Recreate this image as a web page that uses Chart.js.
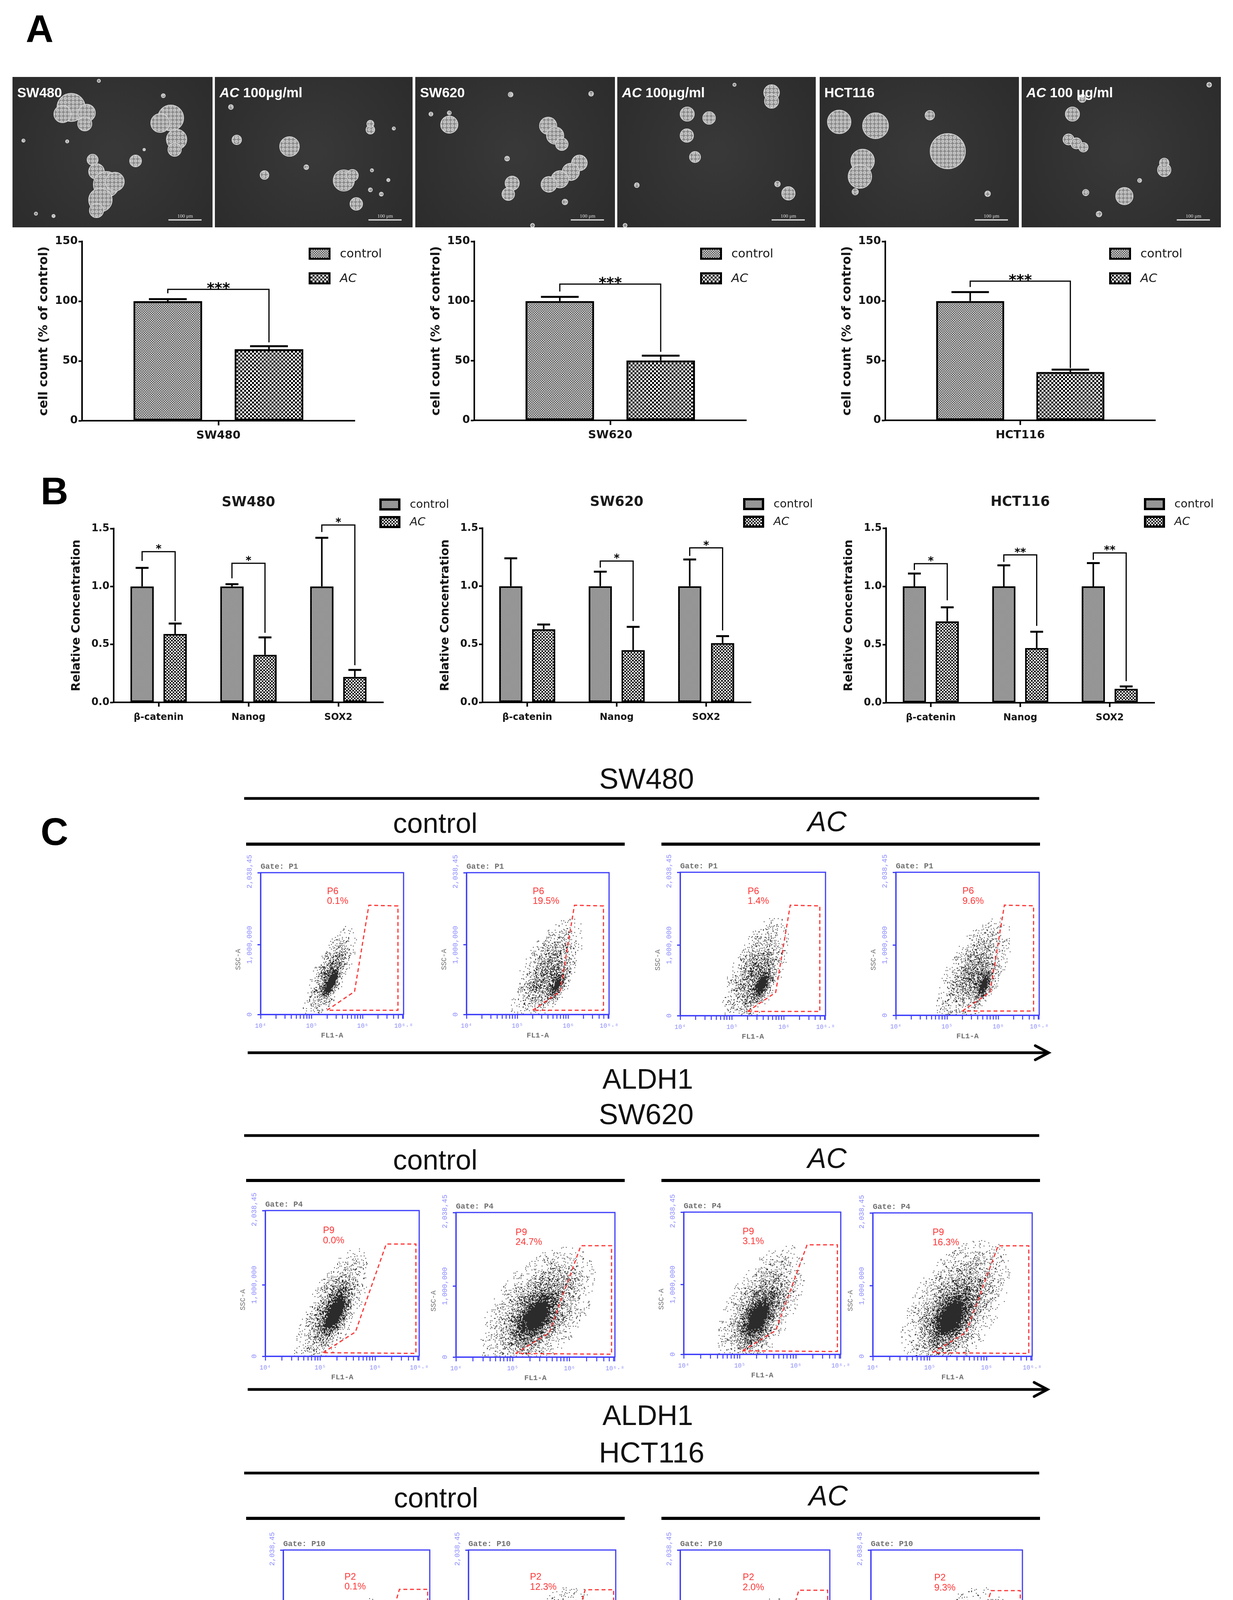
<!DOCTYPE html>
<html><head><meta charset="utf-8"><title>Figure</title>
<script src="https://cdn.jsdelivr.net/npm/chart.js@4.4.1/dist/chart.umd.min.js"></script>
<style>
html,body{margin:0;padding:0;background:#fff;}
#page{position:relative;width:3156px;height:4556px;background:#fff;overflow:hidden;}
#page canvas{position:absolute;}
#deco{position:absolute;left:0;top:0;}
</style></head>
<body><div id="page"><svg id="deco" width="3156" height="4556" xmlns="http://www.w3.org/2000/svg"></svg></div>
<script>
// ======================= DATA =======================
// Panel A – photos: colony estimates [x, y, radius] in photo pixels
const photoLabels = ['SW480', 'AC 100μg/ml', 'SW620', 'AC 100μg/ml', 'HCT116', 'AC 100 μg/ml'];
const coloniesSW480Control = [[150,78,36],[128,95,22],[190,92,22],[185,120,18],[405,105,33],[378,118,24],[420,160,26],[415,186,17],
  [205,212,14],[215,242,20],[240,275,33],[262,268,24],[225,315,30],[215,342,18],[315,215,15],
  [221,10,4],[386,48,5],[28,163,4],[140,165,4],[60,350,4],[105,356,4],[337,186,3]];
const coloniesSW480AC = [[191,178,25],[330,265,27],[352,252,15],[362,325,16],[398,135,11],[398,120,9],[56,161,12],[127,251,11],
  [41,77,6],[458,132,4],[444,264,4],[402,239,4],[398,289,5],[426,300,5],[234,231,6]];
const coloniesSW620Control = [[87,122,22],[340,125,22],[358,150,22],[375,172,16],[420,220,20],[398,243,22],[370,262,22],[342,275,20],
  [248,272,18],[238,300,16],[244,45,6],[450,43,6],[87,92,5],[235,209,6],[383,320,7],[40,95,5],[300,380,5]];
const coloniesSW620AC = [[395,40,20],[395,62,18],[179,95,18],[235,105,16],[178,150,17],[199,205,14],[438,298,17],[410,274,7],[50,277,6],[300,20,4],[20,380,5]];
const coloniesHCT116Control = [[50,115,30],[143,125,33],[110,215,30],[103,255,30],[328,190,45],[282,98,12],[91,294,8],[430,299,7]];
const coloniesHCT116AC = [[130,95,18],[120,160,14],[140,170,14],[158,180,12],[155,55,10],[365,238,17],[365,220,12],[263,305,22],[164,296,8],[198,351,7],[302,265,5],[480,20,6]];

// Panel A – cell counts (% of control)
const countCellLines = ['SW480', 'SW620', 'HCT116'];
const countControl = [100, 100, 100];
const countControlErr = [101.7, 103.5, 107.5];
const countAC = [59.8, 50.2, 40.5];
const countACErr = [62.3, 54.2, 42.5];
const countStars = ['***', '***', '***'];
const countBrackets = [[109.9, 106.6, 65.5], [114.2, 108, 57.4], [116.7, 111.8, 43.8]];

// Panel B – relative concentration
const genes = ['β-catenin', 'Nanog', 'SOX2'];
const sw480GeneControl = [1, 1, 1];
const sw480GeneControlErr = [1.16, 1.02, 1.42];
const sw480GeneAC = [0.59, 0.41, 0.22];
const sw480GeneACErr = [0.68, 0.56, 0.28];
const sw480GeneBrackets = [[0, 1.30, 1.22, 0.70, '*'], [1, 1.20, 1.07, 0.60, '*'], [2, 1.53, 1.47, 0.32, '*']];
const sw620GeneControl = [1, 1, 1];
const sw620GeneControlErr = [1.24, 1.125, 1.23];
const sw620GeneAC = [0.63, 0.45, 0.51];
const sw620GeneACErr = [0.67, 0.65, 0.57];
const sw620GeneBrackets = [[1, 1.217, 1.16, 0.70, '*'], [2, 1.33, 1.26, 0.62, '*']];
const hct116GeneControl = [1, 1, 1];
const hct116GeneControlErr = [1.11, 1.18, 1.2];
const hct116GeneAC = [0.70, 0.47, 0.12];
const hct116GeneACErr = [0.82, 0.61, 0.14];
const hct116GeneBrackets = [[0, 1.195, 1.14, 0.88, '*'], [1, 1.27, 1.21, 0.66, '**'], [2, 1.287, 1.227, 0.185, '**']];

// Panel C – flow cytometry (x: log10 FL1-A, y: SSC-A in millions)
const flowLines = ['SW480', 'SW620', 'HCT116'];
const flowParentGates = ['P1', 'P4', 'P10'];
const flowGateNames = ['P6', 'P9', 'P2'];
const gateP6 = [[5.30,0.06],[5.84,0.33],[6.12,1.57],[6.69,1.56],[6.69,0.06]];
const gateP9 = [[5.05,0.05],[5.64,0.34],[6.20,1.57],[6.74,1.57],[6.74,0.04]];
const gateP2 = [[5.17,0.04],[5.76,0.31],[6.22,1.48],[6.76,1.48],[6.76,0.04]];
const pctSW480 = ['0.1%', '19.5%', '1.4%', '9.6%'];
const pctSW620 = ['0.0%', '24.7%', '3.1%', '16.3%'];
const pctHCT116 = ['0.1%', '12.3%', '2.0%', '9.3%'];
// event clouds: components [centre x, centre y, sd x, sd y, correlation, density]
const cloudsSW480 = [
  [[5.38,0.45,0.10,0.13,0.75,1.0],[5.36,0.58,0.20,0.27,0.75,0.45]],
  [[5.78,0.42,0.10,0.12,0.70,1.0],[5.58,0.60,0.27,0.30,0.65,0.42]],
  [[5.58,0.43,0.11,0.13,0.70,1.0],[5.45,0.60,0.25,0.30,0.60,0.42]],
  [[5.72,0.42,0.10,0.12,0.70,1.0],[5.52,0.60,0.28,0.30,0.60,0.40]]];
const cloudsSW620 = [
  [[5.28,0.60,0.14,0.18,0.70,1.0],[5.22,0.66,0.26,0.32,0.70,0.45]],
  [[5.40,0.55,0.20,0.20,0.50,0.85],[5.45,0.66,0.38,0.34,0.50,0.45]],
  [[5.32,0.50,0.16,0.18,0.55,0.95],[5.36,0.66,0.30,0.34,0.60,0.45]],
  [[5.37,0.54,0.20,0.20,0.50,0.90],[5.45,0.70,0.36,0.36,0.50,0.45]]];
const cloudsHCT116 = [
  [[5.12,0.38,0.12,0.12,0.60,1.0],[5.22,0.56,0.25,0.30,0.70,0.42]],
  [[5.42,0.38,0.22,0.13,0.35,0.95],[5.52,0.60,0.38,0.35,0.45,0.42]],
  [[5.05,0.42,0.17,0.13,0.40,1.0],[5.25,0.56,0.35,0.30,0.55,0.45]],
  [[5.45,0.42,0.20,0.13,0.40,0.95],[5.52,0.60,0.38,0.35,0.50,0.42]]];

// ======================= LAYOUT =======================
const LAYOUT = {
  photos: [[32,197,544,582],[550,197,1056,582],[1063,197,1574,582],[1580,197,2088,582],[2098,197,2608,582],[2615,197,3125,582]],
  countAreas: [[210,618,908,1077],[1214,618,1910,1076],[2266,618,2957,1076]],
  geneAreas: [[291,1353,981,1798],[1235,1352,1922,1798],[2268,1352,2955,1799]],
  geneLegendDx: [-10, -20, -27],
  flowFrames: [
    [[667,2234,1036,2597],[1194,2234,1562,2597],[1741,2233,2116,2600],[2293,2233,2663,2599]],
    [[679,3099,1076,3472],[1167,3104,1577,3474],[1750,3103,2155,3467],[2234,3105,2645,3472]],
    [[725,3968,1103,4336],[1199,3968,1579,4339],[1741,3968,2127,4344],[2229,3968,2620,4348]]],
  flowLabelY: [[1.73,1.59],[1.72,1.58],[1.62,1.48]],
  headers: [
    {tx:1655, ty:2019, l0:2044, cx:1114, cy:2132, ax:2117, ay:2128, l1:2161, arrow:2695, tip:2684, hx:1658, hy:2787},
    {tx:1654, ty:2878, l0:2907, cx:1114, cy:2994, ax:2117, ay:2990, l1:3022, arrow:3557, tip:2681, hx:1658, hy:3648},
    {tx:1668, ty:3744, l0:3771, cx:1116, cy:3859, ax:2120, ay:3854, l1:3887, arrow:4423, tip:2687, hx:1663, hy:4518}]
};

// ======================= SETUP =======================
const SANS = '"Liberation Sans", Arial, Helvetica, sans-serif';
const WIDE = '"DejaVu Sans", Verdana, sans-serif';
const MONO = '"Liberation Mono", "DejaVu Sans Mono", "Courier New", monospace';
Chart.defaults.animation = false;
Chart.defaults.events = [];
Chart.defaults.plugins.legend.display = false;
Chart.defaults.plugins.tooltip.enabled = false;
Chart.defaults.font.family = WIDE;

const page = document.getElementById('page');
function addCanvas(left, top, w, h) {
  const c = document.createElement('canvas');
  c.width = w; c.height = h;
  c.style.left = left + 'px'; c.style.top = top + 'px';
  c.style.width = w + 'px'; c.style.height = h + 'px';
  page.appendChild(c);
  return c;
}
function checker(size, sq, light, dark) {
  const t = document.createElement('canvas'); t.width = t.height = size;
  const g = t.getContext('2d');
  g.fillStyle = light; g.fillRect(0, 0, size, size);
  g.fillStyle = dark; g.fillRect(0, 0, sq, sq); g.fillRect(sq, sq, sq, sq);
  return g.createPattern(t, 'repeat');
}
function cellPattern() {
  const t = document.createElement('canvas'); t.width = t.height = 10;
  const g = t.getContext('2d');
  g.fillStyle = '#8a8a8a'; g.fillRect(0, 0, 10, 10);
  g.fillStyle = '#b3b3b3'; g.beginPath(); g.arc(5, 5, 3.4, 0, Math.PI * 2); g.fill();
  g.strokeStyle = '#dcdcdc'; g.lineWidth = 1.2; g.stroke();
  return g.createPattern(t, 'repeat');
}
const PAT_A = [checker(6, 3, '#d6d6d6', '#555555'), checker(10, 5, '#ffffff', '#000000')];
const PAT_B = [checker(4, 2, '#d6d6d6', '#555555'), checker(8, 4, '#ffffff', '#000000')];
const CELLS = cellPattern();

// ======================= PHOTOS =======================
function photoChart(box, colonies, label) {
  const [l, t, r, b] = box, W = r - l, H = b - t;
  const cv = addCanvas(l, t, W, H);
  new Chart(cv, {
    type: 'bubble',
    data: { datasets: [{ label: label, data: colonies.map(c => ({ x: c[0], y: c[1], r: c[2] })),
      backgroundColor: CELLS, borderColor: '#d2d2d2', borderWidth: 2 }] },
    options: {
      responsive: false, devicePixelRatio: 1,
      layout: { autoPadding: false, padding: 0 },
      scales: { x: { display: false, min: 0, max: W }, y: { display: false, min: 0, max: H, reverse: true } }
    },
    plugins: [{
      id: 'photo',
      beforeDraw(chart) {
        const ctx = chart.ctx, w = chart.width, h = chart.height;
        const g = ctx.createRadialGradient(w / 2, h / 2, 20, w / 2, h / 2, w * 0.7);
        g.addColorStop(0, '#383838'); g.addColorStop(1, '#2a2a2a');
        ctx.save(); ctx.fillStyle = g; ctx.fillRect(0, 0, w, h); ctx.restore();
      },
      afterDraw(chart) {
        const ctx = chart.ctx, w = chart.width, h = chart.height;
        ctx.save();
        ctx.fillStyle = '#ffffff'; ctx.textBaseline = 'alphabetic'; ctx.textAlign = 'left';
        let x = 12;
        if (label.startsWith('AC')) {
          ctx.font = 'italic bold 35px ' + SANS; ctx.fillText('AC', x, 52);
          x += ctx.measureText('AC').width;
          ctx.font = 'bold 35px ' + SANS; ctx.fillText(label.slice(2), x, 52);
        } else {
          ctx.font = 'bold 35px ' + SANS; ctx.fillText(label, x, 52);
        }
        ctx.strokeStyle = '#e6e6e6'; ctx.lineWidth = 3;
        ctx.beginPath(); ctx.moveTo(w - 113, h - 19); ctx.lineTo(w - 28, h - 19); ctx.stroke();
        ctx.font = '13px "Liberation Serif", serif'; ctx.textAlign = 'center'; ctx.fillStyle = '#e0e0e0';
        ctx.fillText('100 μm', w - 70, h - 25);
        ctx.restore();
      }
    }]
  });
}
const allColonies = [coloniesSW480Control, coloniesSW480AC, coloniesSW620Control, coloniesSW620AC, coloniesHCT116Control, coloniesHCT116AC];
allColonies.forEach((c, i) => photoChart(LAYOUT.photos[i], c, photoLabels[i]));

// ======================= BAR CHARTS =======================
function barChart(cfg) {
  const [l, t, r, b] = cfg.area;
  const [mL, mT, mR, mB] = cfg.margins;
  const cv = addCanvas(l - mL, t - mT, (r - l) + mL + mR, (b - t) + mT + mB);
  const extras = {
    id: 'gpExtras',
    afterDatasetsDraw(chart) {
      const ctx = chart.ctx, ys = chart.scales.y, ca = chart.chartArea;
      ctx.save();
      ctx.strokeStyle = '#000'; ctx.fillStyle = '#000'; ctx.lineCap = 'butt';
      [cfg.ctrlErr, cfg.acErr].forEach((errs, di) => {
        chart.getDatasetMeta(di).data.forEach((el, j) => {
          const top = ys.getPixelForValue(errs[j]);
          const half = el.width * cfg.capRatio / 2;
          ctx.lineWidth = cfg.errLw;
          ctx.beginPath(); ctx.moveTo(el.x, el.y); ctx.lineTo(el.x, top); ctx.stroke();
          ctx.lineWidth = cfg.capLw;
          ctx.beginPath(); ctx.moveTo(el.x - half, top); ctx.lineTo(el.x + half, top); ctx.stroke();
        });
      });
      cfg.brackets.forEach(([cat, yb, yl, yr, txt]) => {
        const xl = chart.getDatasetMeta(0).data[cat].x;
        const xr = chart.getDatasetMeta(1).data[cat].x;
        const py = ys.getPixelForValue(yb);
        ctx.lineWidth = cfg.brLw; ctx.lineJoin = 'miter';
        ctx.beginPath(); ctx.moveTo(xl, ys.getPixelForValue(yl)); ctx.lineTo(xl, py);
        ctx.lineTo(xr, py); ctx.lineTo(xr, ys.getPixelForValue(yr)); ctx.stroke();
        ctx.font = cfg.starFont; ctx.textAlign = 'center'; ctx.textBaseline = 'alphabetic';
        ctx.fillText(txt, (xl + xr) / 2, py + cfg.starDy);
      });
      const L = cfg.legend;
      chart.data.datasets.forEach((ds, i) => {
        const bx = ca.right + L.dx, by = ca.top + L.dy + i * L.pitch;
        ctx.fillStyle = ds.backgroundColor; ctx.fillRect(bx, by, L.w, L.h);
        ctx.lineWidth = L.lw; ctx.strokeStyle = '#000';
        ctx.strokeRect(bx + L.lw / 2, by + L.lw / 2, L.w - L.lw, L.h - L.lw);
        ctx.fillStyle = '#1a1a1a';
        ctx.font = (ds.label === 'AC' ? 'italic ' : '') + L.size + 'px ' + WIDE;
        ctx.textAlign = 'left'; ctx.textBaseline = 'middle';
        ctx.fillText(ds.label, bx + L.textDx, by + L.h / 2 + 1);
      });
      if (cfg.title) {
        ctx.fillStyle = '#1a1a1a'; ctx.font = 'bold ' + cfg.titleSize + 'px ' + WIDE;
        ctx.textAlign = 'center'; ctx.textBaseline = 'middle';
        ctx.fillText(cfg.title, (ca.left + ca.right) / 2, ca.top + cfg.titleDy);
      }
      ctx.restore();
    }
  };
  const ds = (label, data, pat) => ({ label, data, backgroundColor: pat, borderColor: '#000', borderWidth: cfg.bw,
    borderSkipped: false, categoryPercentage: cfg.catPct, barPercentage: cfg.barPct });
  new Chart(cv, {
    type: 'bar',
    data: { labels: cfg.labels, datasets: [ds('control', cfg.ctrl, cfg.pats[0]), ds('AC', cfg.ac, cfg.pats[1])] },
    options: {
      responsive: false, devicePixelRatio: 1,
      layout: { autoPadding: false, padding: { left: 0, top: mT, right: mR, bottom: 0 } },
      scales: {
        x: {
          offset: true,
          grid: { display: true, drawOnChartArea: false, offset: false, drawTicks: true, tickLength: cfg.xTick, tickWidth: cfg.axLw, tickColor: '#000' },
          border: { display: true, color: '#000', width: cfg.axLw },
          ticks: { font: { family: WIDE, size: cfg.catSize, weight: 'bold' }, color: '#151515', padding: cfg.catPad, maxRotation: 0, autoSkip: false },
          afterFit(s) { s.height = mB; }
        },
        y: {
          min: 0, max: cfg.yMax,
          grid: { drawOnChartArea: false, tickLength: 9, tickWidth: cfg.axLw, tickColor: '#000' },
          border: { display: true, color: '#000', width: cfg.axLw },
          ticks: { stepSize: cfg.step, font: { family: WIDE, size: cfg.tickSize, weight: 'bold' }, color: '#151515', padding: 2,
            callback: v => cfg.decimals ? Number(v).toFixed(cfg.decimals) : v },
          title: { display: true, text: cfg.yTitle, color: '#151515', font: { family: WIDE, size: cfg.yTitleSize, weight: 'bold' },
            padding: { top: cfg.yTitlePad, bottom: 0 } },
          afterFit(s) { s.width = mL; }
        }
      }
    },
    plugins: [extras]
  });
}

// Panel A count charts
countCellLines.forEach((name, i) => {
  barChart({
    area: LAYOUT.countAreas[i], margins: [130, 45, 150, 70],
    labels: [name], ctrl: [countControl[i]], ac: [countAC[i]], ctrlErr: [countControlErr[i]], acErr: [countACErr[i]],
    brackets: [[0, countBrackets[i][0], countBrackets[i][1], countBrackets[i][2], countStars[i]]],
    pats: PAT_A, bw: 5, catPct: 0.742, barPct: 0.68, axLw: 4, xTick: 12, catSize: 29, catPad: 9,
    yMax: 150, step: 50, decimals: 0, tickSize: 28, yTitle: 'cell count (% of control)', yTitleSize: 32, yTitlePad: 13,
    capRatio: 0.55, errLw: 4, capLw: 5, brLw: 3, starFont: 'bold 38px ' + WIDE, starDy: 9,
    legend: { dx: -118, dy: 16, pitch: 63, w: 56, h: 31, lw: 5, textDx: 80, size: 31 }
  });
});

// Panel B gene charts
const geneSets = [
  ['SW480', sw480GeneControl, sw480GeneControlErr, sw480GeneAC, sw480GeneACErr, sw480GeneBrackets],
  ['SW620', sw620GeneControl, sw620GeneControlErr, sw620GeneAC, sw620GeneACErr, sw620GeneBrackets],
  ['HCT116', hct116GeneControl, hct116GeneControlErr, hct116GeneAC, hct116GeneACErr, hct116GeneBrackets]];
geneSets.forEach((g, i) => {
  barChart({
    area: LAYOUT.geneAreas[i], margins: [125, 115, 190, 70],
    labels: genes, ctrl: g[1], ctrlErr: g[2], ac: g[3], acErr: g[4], brackets: g[5], title: g[0], titleSize: 35, titleDy: -66,
    pats: PAT_B, bw: 4.5, catPct: 0.735, barPct: 0.71, axLw: 4, xTick: 11, catSize: 24, catPad: 13,
    yMax: 1.5, step: 0.5, decimals: 1, tickSize: 26, yTitle: 'Relative Concentration', yTitleSize: 30, yTitlePad: 12,
    capRatio: 0.55, errLw: 4, capLw: 5, brLw: 3, starFont: 'bold 28px ' + WIDE, starDy: 2,
    legend: { dx: LAYOUT.geneLegendDx[i], dy: -77, pitch: 45, w: 54, h: 31, lw: 6, textDx: 78, size: 29 }
  });
});

// ======================= FLOW CYTOMETRY =======================
const FLOW_TICKS = [];
[4, 5, 6].forEach(d => { for (let k = 1; k <= 9; k++) { const v = d + Math.log10(k); if (v <= 6.8 + 1e-9) FLOW_TICKS.push(v); } });
FLOW_TICKS.push(6.8);
const FLOW_TICK_LABELS = { '4.00': '10⁴', '5.00': '10⁵', '6.00': '10⁶', '6.80': '10⁶·⁸' };
// deterministic integer-hash dither threshold (grain texture of the density sprite only)
function ditherThreshold(x, y) {
  let h = (Math.imul(x, 374761393) + Math.imul(y, 668265263)) | 0;
  h = Math.imul(h ^ (h >>> 13), 1274126177);
  h = h ^ (h >>> 16);
  return (h >>> 0) / 4294967296;
}

function cloudSprite(chart, comps, seed) {
  const xs = chart.scales.x, ys = chart.scales.y;
  const pxDec = Math.abs(xs.getPixelForValue(5) - xs.getPixelForValue(4));
  const pxUnit = Math.abs(ys.getPixelForValue(0) - ys.getPixelForValue(1));
  const c0 = comps[0];
  let hw = 10, hh = 10;
  comps.forEach(c => {
    hw = Math.max(hw, (Math.abs(c[0] - c0[0]) + 3.2 * c[2]) * pxDec);
    hh = Math.max(hh, (Math.abs(c[1] - c0[1]) + 3.2 * c[3]) * pxUnit);
  });
  const cell = 2;
  const W = Math.ceil(hw / cell) * cell * 2, H = Math.ceil(hh / cell) * cell * 2;
  const cv = document.createElement('canvas'); cv.width = W; cv.height = H;
  const g = cv.getContext('2d');
  const img = g.createImageData(W, H);
  for (let py = 0; py < H; py += cell) {
    for (let px = 0; px < W; px += cell) {
      const xv = c0[0] + (px + cell / 2 - W / 2) / pxDec;
      const yv = c0[1] - (py + cell / 2 - H / 2) / pxUnit;
      let d = 0;
      for (const c of comps) {
        const u = (xv - c[0]) / c[2], v = (yv - c[1]) / c[3], r = c[4];
        d += c[5] * Math.exp(-0.5 * (u * u - 2 * r * u * v + v * v) / (1 - r * r));
      }
      if (d < 0.012) continue;
      d = Math.pow(Math.min(1, d), 0.8);
      const thr = ditherThreshold(px / cell + seed * 1013, py / cell + seed * 389);
      const a = d > thr ? 0.88 : 0.10 * d;
      for (let yy = 0; yy < cell; yy++) for (let xx = 0; xx < cell; xx++) {
        const k = ((py + yy) * W + (px + xx)) * 4;
        img.data[k] = 14; img.data[k + 1] = 14; img.data[k + 2] = 14; img.data[k + 3] = Math.round(a * 255);
      }
    }
  }
  g.putImageData(img, 0, 0);
  return cv;
}

let flowCount = 0;
function flowChart(frame, gate, parentGate, pop, pct, cloud, labelY) {
  const mL = 80, mT = 45, mR = 30, mB = 80;
  const [l, t, r, b] = frame;
  const cv = addCanvas(l - mL, t - mT, (r - l) + mL + mR, (b - t) + mT + mB);
  const BLUE = '#3c3cfb', LBLUE = '#8a8aff', GRAY = '#707070', RED = '#ff3434';
  const seed = ++flowCount;
  let sprite = null;
  new Chart(cv, {
    type: 'scatter',
    data: { datasets: [
      { label: 'Gate ' + pop, data: gate.concat([gate[0]]).map(p => ({ x: p[0], y: p[1] })), showLine: true,
        borderColor: RED, borderWidth: 3, borderDash: [10, 7], pointRadius: 0, fill: false, tension: 0, order: 0 },
      { label: 'events', data: [{ x: cloud[0][0], y: cloud[0][1] }], pointRadius: 2, order: 1,
        pointStyle: (ctx) => {
          const ch = ctx.chart;
          if (!ch.chartArea || ch.chartArea.width < 20) return 'circle';
          if (!sprite) sprite = cloudSprite(ch, cloud, seed);
          return sprite;
        } }
    ] },
    options: {
      responsive: false, devicePixelRatio: 1,
      layout: { autoPadding: false, padding: { left: 0, top: mT, right: mR, bottom: 0 } },
      scales: {
        x: {
          type: 'linear', min: 4, max: 6.8,
          afterBuildTicks(s) { s.ticks = FLOW_TICKS.map(v => ({ value: v })); },
          ticks: { autoSkip: false, maxRotation: 0, font: { family: MONO, size: 16 }, color: LBLUE, padding: 9,
            callback: (v) => FLOW_TICK_LABELS[Number(v).toFixed(2)] || '' },
          grid: { drawOnChartArea: false, tickLength: 11, tickWidth: 2.5, tickColor: BLUE },
          border: { color: BLUE, width: 3 },
          afterFit(s) { s.height = mB; }
        },
        y: {
          type: 'linear', min: 0, max: 2.038453,
          afterBuildTicks(s) { s.ticks = [0, 1, 2.038453].map(v => ({ value: v })); },
          ticks: { display: false },
          grid: { drawOnChartArea: false, tickLength: 8, tickWidth: 3, tickColor: BLUE },
          border: { color: BLUE, width: 3 },
          afterFit(s) { s.width = mL; }
        }
      }
    },
    plugins: [{
      id: 'flowDecor',
      afterDraw(chart) {
        const ctx = chart.ctx, ca = chart.chartArea, xs = chart.scales.x, ys = chart.scales.y;
        ctx.save();
        ctx.strokeStyle = BLUE; ctx.lineWidth = 3;
        ctx.strokeRect(ca.left, ca.top, ca.right - ca.left, ca.bottom - ca.top);
        ctx.fillStyle = GRAY; ctx.font = 'bold 20px ' + MONO; ctx.textAlign = 'left'; ctx.textBaseline = 'alphabetic';
        ctx.fillText('Gate: ' + parentGate, ca.left, ca.top - 10);
        ctx.fillStyle = LBLUE; ctx.font = '18px ' + MONO;
        [[0, '0', 0], [1, '1,000,000', 0], [2.038453, '2,038,453', -8]].forEach(([v, s, dy]) => {
          ctx.save(); ctx.translate(ca.left - 28, ys.getPixelForValue(v) + dy); ctx.rotate(-Math.PI / 2);
          ctx.textAlign = 'center'; ctx.textBaseline = 'middle'; ctx.fillText(s, 0, 0); ctx.restore();
        });
        ctx.fillStyle = GRAY; ctx.font = '18px ' + MONO;
        ctx.save(); ctx.translate(ca.left - 57, ys.getPixelForValue(0.79)); ctx.rotate(-Math.PI / 2);
        ctx.textAlign = 'center'; ctx.textBaseline = 'middle'; ctx.fillText('SSC-A', 0, 0); ctx.restore();
        ctx.font = 'bold 19px ' + MONO; ctx.textAlign = 'center'; ctx.textBaseline = 'middle';
        ctx.fillText('FL1-A', (ca.left + ca.right) / 2, ca.bottom + 54);
        ctx.fillStyle = RED; ctx.font = '24px ' + SANS; ctx.textAlign = 'left'; ctx.textBaseline = 'alphabetic';
        const lx = xs.getPixelForValue(gate[0][0]);
        ctx.fillText(pop, lx, ys.getPixelForValue(labelY[0]));
        ctx.fillText(pct, lx, ys.getPixelForValue(labelY[1]));
        ctx.restore();
      }
    }]
  });
}
const flowGates = [gateP6, gateP9, gateP2];
const flowPcts = [pctSW480, pctSW620, pctHCT116];
const flowClouds = [cloudsSW480, cloudsSW620, cloudsHCT116];
flowLines.forEach((name, row) => {
  for (let p = 0; p < 4; p++) {
    flowChart(LAYOUT.flowFrames[row][p], flowGates[row], flowParentGates[row], flowGateNames[row],
      flowPcts[row][p], flowClouds[row][p], LAYOUT.flowLabelY[row]);
  }
});

// ======================= DECORATION (SVG text, rules, arrows) =======================
const svg = document.getElementById('deco');
const NS = 'http://www.w3.org/2000/svg';
const SVG_SANS = 'Liberation Sans, Arial, Helvetica, sans-serif';
function sv(tag, attrs, text) {
  const e = document.createElementNS(NS, tag);
  for (const k in attrs) e.setAttribute(k, attrs[k]);
  if (text != null) e.textContent = text;
  svg.appendChild(e);
  return e;
}
[['A', 66, 107], ['B', 104, 1291], ['C', 104, 2163]].forEach(([s, x, y]) =>
  sv('text', { x, y, 'font-family': SVG_SANS, 'font-size': 98, 'font-weight': 'bold', fill: '#000' }, s));
flowLines.forEach((name, i) => {
  const h = LAYOUT.headers[i];
  sv('text', { x: h.tx, y: h.ty, 'text-anchor': 'middle', 'font-family': SVG_SANS, 'font-size': 74, fill: '#111' }, name);
  sv('line', { x1: 625, y1: h.l0, x2: 2660, y2: h.l0, stroke: '#000', 'stroke-width': 7 });
  sv('text', { x: h.cx, y: h.cy, 'text-anchor': 'middle', 'font-family': SVG_SANS, 'font-size': 72, fill: '#111' }, 'control');
  sv('text', { x: h.ax, y: h.ay, 'text-anchor': 'middle', 'font-family': SVG_SANS, 'font-size': 72, 'font-style': 'italic', fill: '#111' }, 'AC');
  sv('line', { x1: 630, y1: h.l1, x2: 1599, y2: h.l1, stroke: '#000', 'stroke-width': 8 });
  sv('line', { x1: 1693, y1: h.l1, x2: 2662, y2: h.l1, stroke: '#000', 'stroke-width': 8 });
  sv('line', { x1: 634, y1: h.arrow, x2: h.tip - 4, y2: h.arrow, stroke: '#000', 'stroke-width': 7 });
  sv('polyline', { points: `${h.tip - 34},${h.arrow - 18} ${h.tip},${h.arrow} ${h.tip - 34},${h.arrow + 18}`,
    fill: 'none', stroke: '#000', 'stroke-width': 7, 'stroke-linecap': 'round', 'stroke-linejoin': 'miter' });
  sv('text', { x: h.hx, y: h.hy, 'text-anchor': 'middle', 'font-family': SVG_SANS, 'font-size': 72, fill: '#111' }, 'ALDH1');
});
</script>
</body></html>
